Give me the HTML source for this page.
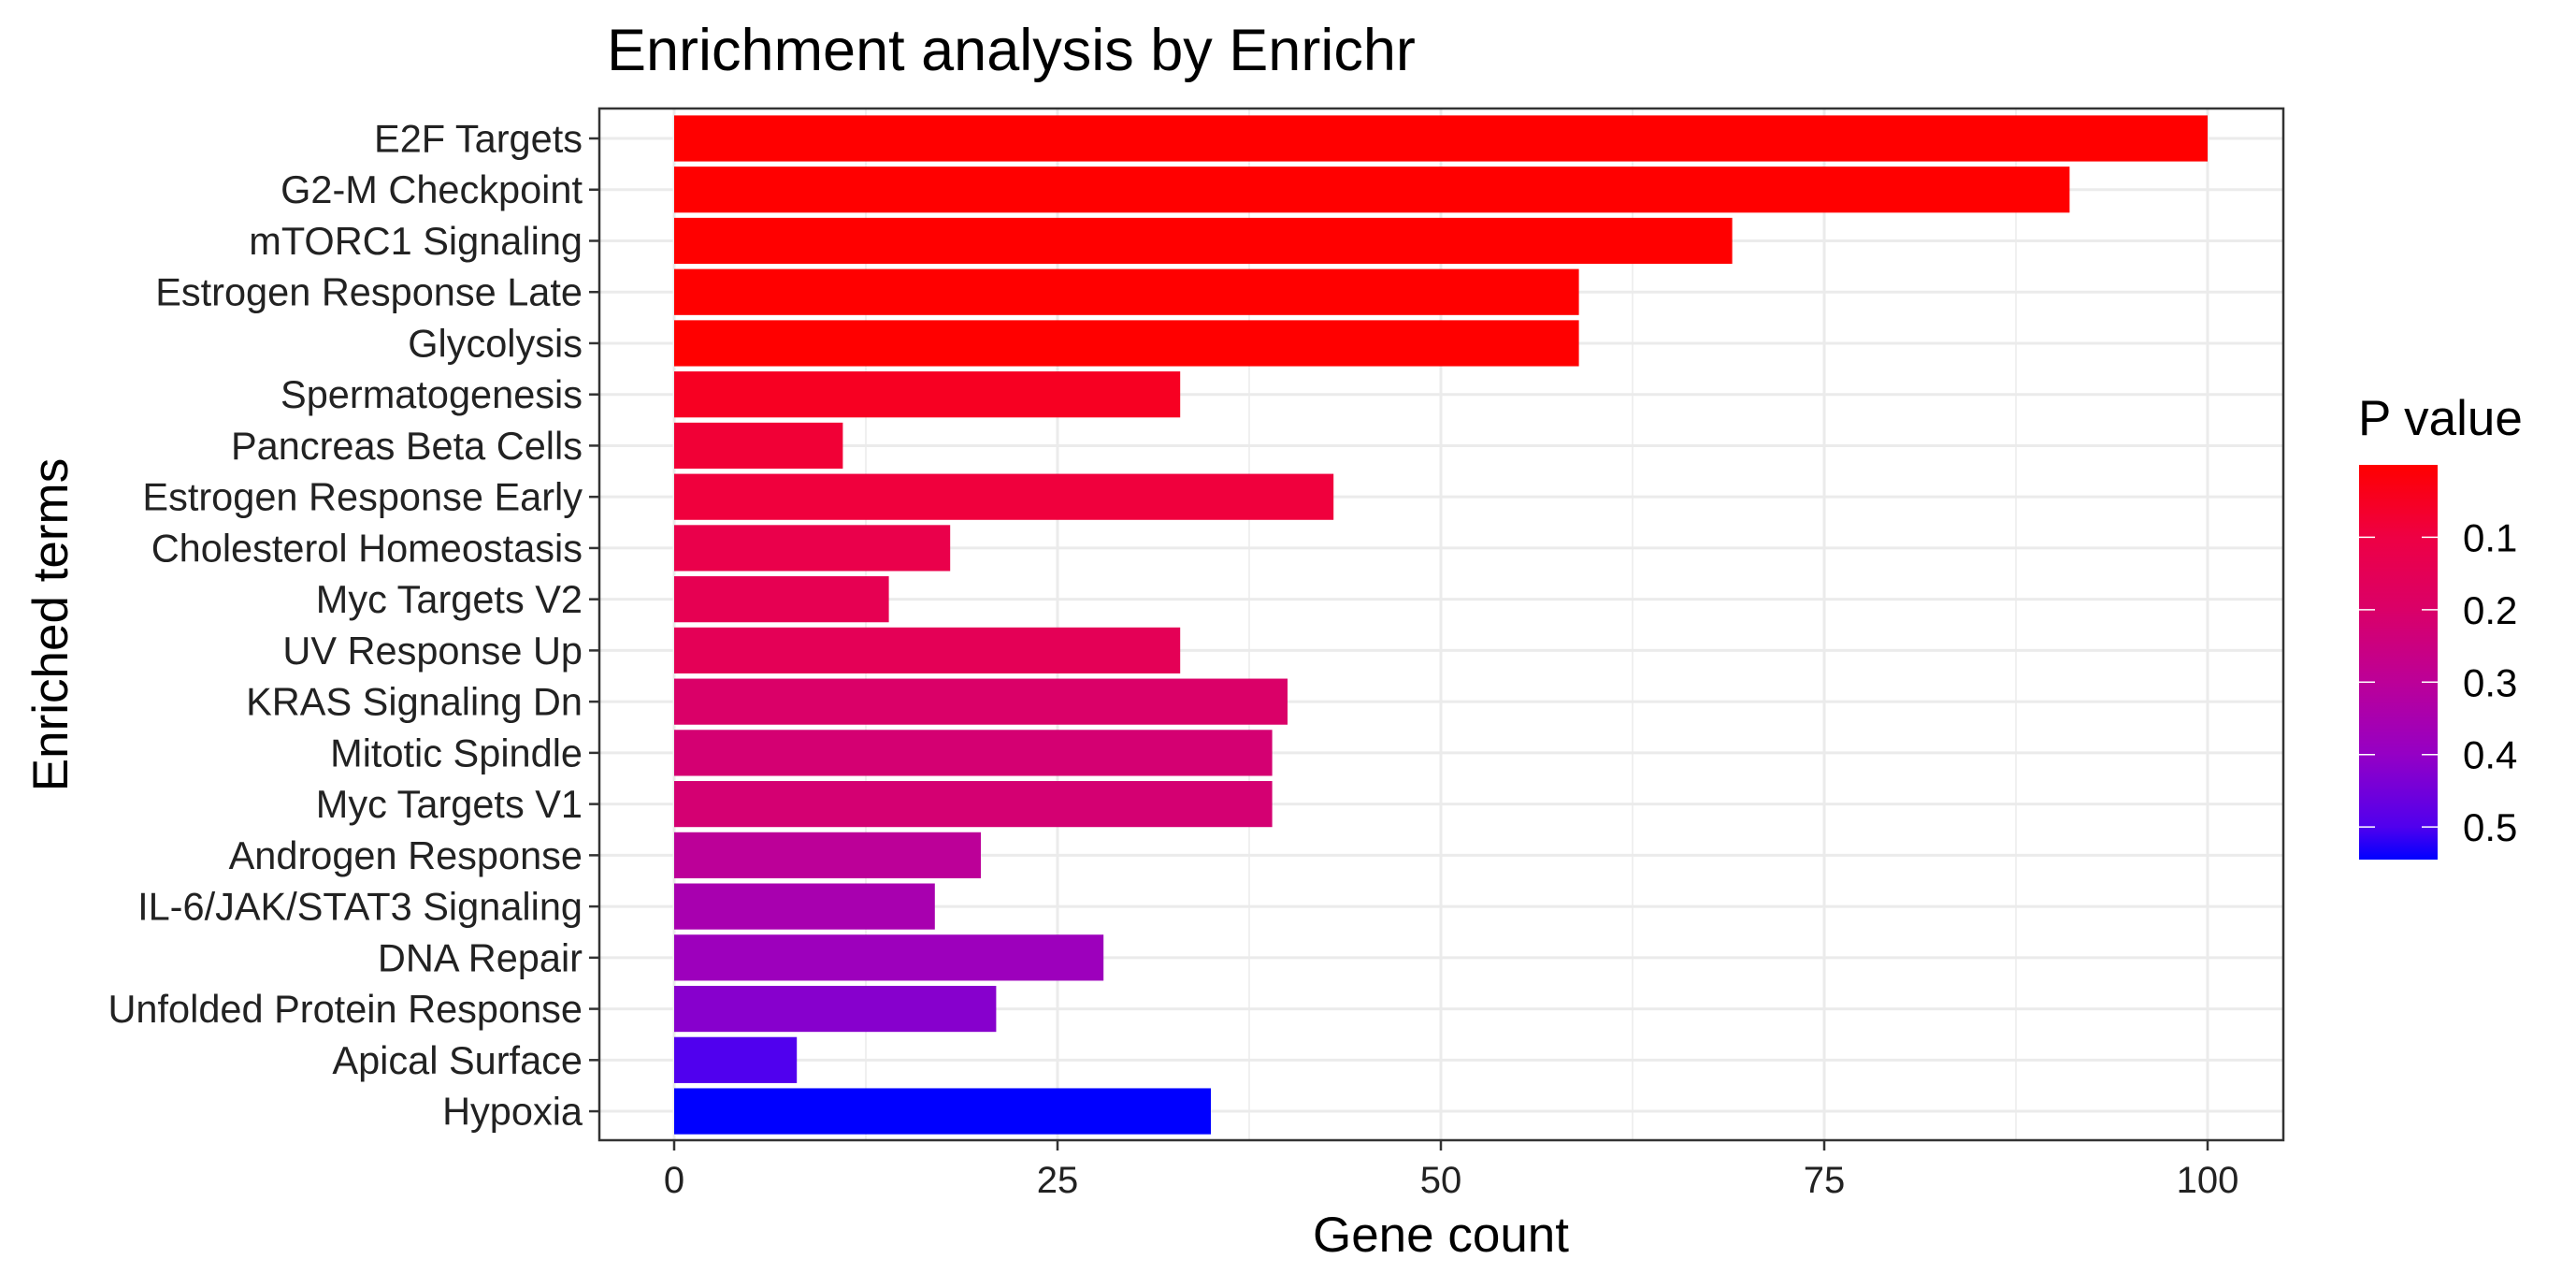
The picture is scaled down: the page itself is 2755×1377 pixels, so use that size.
<!DOCTYPE html>
<html><head><meta charset="utf-8"><style>
body{margin:0;background:#fff}
svg{display:block;font-family:"Liberation Sans",Arial,sans-serif}
</style></head><body>
<svg id="chart" width="2755" height="1377" viewBox="0 0 2755 1377" xmlns="http://www.w3.org/2000/svg">
<defs>
<linearGradient id="pgrad" x1="0" y1="0" x2="0" y2="1">
<stop offset="0" stop-color="#FF0000"/>
<stop offset="0.184" stop-color="#EE0044"/>
<stop offset="0.367" stop-color="#DA0068"/>
<stop offset="0.55" stop-color="#BC0098"/>
<stop offset="0.734" stop-color="#9500C5"/>
<stop offset="0.917" stop-color="#5000EE"/>
<stop offset="1" stop-color="#0000FF"/>
</linearGradient>
</defs>
<text x="649" y="75" font-size="63" fill="#000">Enrichment analysis by Enrichr</text>
<rect x="641" y="116" width="1801" height="1103" fill="#fff"/>
<g id="grid"></g>
<g id="bars"></g>
<rect x="641" y="116" width="1801" height="1103" fill="none" stroke="#333" stroke-width="2.5"/>
<g id="axes"></g>
<text x="1541" y="1338" font-size="53" text-anchor="middle">Gene count</text>
<text transform="translate(72,668) rotate(-90)" font-size="53" text-anchor="middle">Enriched terms</text>
<g>
<text x="2522" y="465" font-size="53">P value</text>
<rect x="2523" y="497" width="84" height="422" fill="url(#pgrad)"/>
<g id="legend-ticks"></g>
</g>
</svg>
<script>
const categories=["E2F Targets","G2-M Checkpoint","mTORC1 Signaling","Estrogen Response Late","Glycolysis","Spermatogenesis","Pancreas Beta Cells","Estrogen Response Early","Cholesterol Homeostasis","Myc Targets V2","UV Response Up","KRAS Signaling Dn","Mitotic Spindle","Myc Targets V1","Androgen Response","IL-6/JAK/STAT3 Signaling","DNA Repair","Unfolded Protein Response","Apical Surface","Hypoxia"];
const counts=[100,91,69,59,59,33,11,43,18,14,33,40,39,39,20,17,28,21,8,35];
const pvalues=[0.0,0.0,0.0,0.0,0.0,0.05,0.08,0.09,0.12,0.14,0.15,0.2,0.22,0.22,0.3,0.35,0.38,0.42,0.5,0.545];
const xTicks=[0,25,50,75,100];
const xMinor=[12.5,37.5,62.5,87.5];
const pTicks=[0.1,0.2,0.3,0.4,0.5];

const NS="http://www.w3.org/2000/svg";
const X=v=>721+v*16.4;
const Y=i=>148+i*54.74;
const PMIN=0,PMAX=0.545;
const PY=p=>497+(p-PMIN)/(PMAX-PMIN)*422;
const stops=[[0,[255,0,0]],[0.184,[238,0,68]],[0.367,[218,0,104]],[0.55,[188,0,152]],[0.734,[149,0,197]],[0.917,[80,0,238]],[1,[0,0,255]]];
function col(p){let t=Math.max(0,Math.min(1,(p-PMIN)/(PMAX-PMIN)));
for(let k=1;k<stops.length;k++){if(t<=stops[k][0]){const a=stops[k-1],b=stops[k];const f=(t-a[0])/(b[0]-a[0]);
const c=a[1].map((v,j)=>Math.round(v+(b[1][j]-v)*f));return `rgb(${c})`;}}return "rgb(0,0,255)";}
function mk(tag,attrs,parent){const e=document.createElementNS(NS,tag);for(const k in attrs)e.setAttribute(k,attrs[k]);parent.appendChild(e);return e;}
const grid=document.getElementById('grid'),bars=document.getElementById('bars'),axes=document.getElementById('axes'),lt=document.getElementById('legend-ticks');
xMinor.forEach(v=>{const l=mk('line',{x1:X(v),x2:X(v),y1:116,y2:1219,stroke:'#EBEBEB','stroke-width':1.5},grid);

});
xTicks.forEach(v=>{const l=mk('line',{x1:X(v),x2:X(v),y1:116,y2:1219,stroke:'#EBEBEB','stroke-width':3},grid);


const t=mk('line',{x1:X(v),x2:X(v),y1:1219,y2:1230,stroke:'#333','stroke-width':2.5},axes);


const tx=mk('text',{x:X(v),y:1275,'font-size':40,'text-anchor':'middle',fill:'#222'},axes);tx.textContent=v;

});
categories.forEach((c,i)=>{const y=Y(i);
const g=mk('line',{x1:641,x2:2442,y1:y,y2:y,stroke:'#EBEBEB','stroke-width':3},grid);


const r=mk('rect',{x:X(0),y:y-24.6,width:X(counts[i])-X(0),height:49.2,fill:col(pvalues[i])},bars);


const t=mk('line',{x1:630,x2:641,y1:y,y2:y,stroke:'#333','stroke-width':2.5},axes);


const tx=mk('text',{x:623,y:y+14.5,'font-size':41.5,'text-anchor':'end',fill:'#222'},axes);tx.textContent=c;

});
pTicks.forEach(p=>{const y=PY(p);
const a=mk('line',{x1:2523,x2:2540,y1:y,y2:y,stroke:'#fff','stroke-width':1.5},lt);


const b=mk('line',{x1:2590,x2:2607,y1:y,y2:y,stroke:'#fff','stroke-width':1.5},lt);


const tx=mk('text',{x:2634,y:y+15,'font-size':42,fill:'#000'},lt);tx.textContent=p;

});
</script>
</body></html>
